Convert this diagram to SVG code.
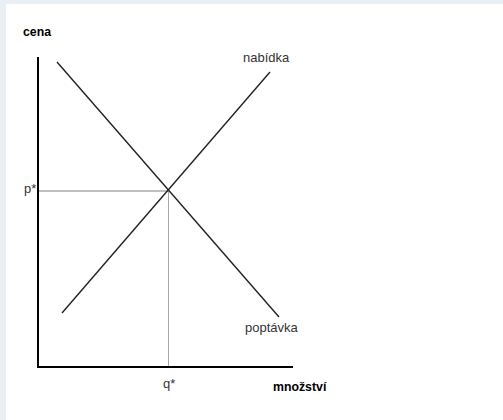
<svg xmlns="http://www.w3.org/2000/svg" width="503" height="420" viewBox="0 0 503 420">
<style>
.bg{fill:#e9eff2}
.axis{stroke:#000;stroke-width:2;fill:none}
.curve{stroke:#222;stroke-width:1.4;fill:none}
.guide{stroke:#a8a8a8;fill:none}
.lbl{font-family:"Liberation Sans",Arial,sans-serif;font-size:13px;fill:#333}
.ttl{font-family:"Liberation Sans",Arial,sans-serif;font-size:12.3px;font-weight:bold;fill:#000}
</style>
<rect class="bg" x="0" y="0" width="503" height="420"/>
<rect x="6" y="4" width="497" height="416" fill="#fff"/>
<g id="connectors">
<line class="guide" x1="39" y1="191" x2="169" y2="191" stroke-width="1.6"/>
<line class="guide" x1="168.5" y1="191" x2="168.5" y2="367" stroke-width="1"/>
<line class="curve" x1="57" y1="62" x2="279" y2="317"/>
<line class="curve" x1="62" y1="313" x2="270" y2="72"/>
</g>
<g id="axes">
<polyline class="axis" points="38,57 38,367 293,367"/>
</g>
<g id="label-cena"><text class="ttl" x="23" y="36">cena</text></g>
<g id="label-mnozstvi"><text class="ttl" x="273" y="391">množství</text></g>
<g id="label-nabidka"><text class="lbl" x="243" y="62">nabídka</text></g>
<g id="label-poptavka"><text class="lbl" x="245" y="332">poptávka</text></g>
<g id="label-p"><text class="lbl" x="24" y="193">p*</text></g>
<g id="label-q"><text class="lbl" x="163" y="388">q*</text></g>
</svg>
